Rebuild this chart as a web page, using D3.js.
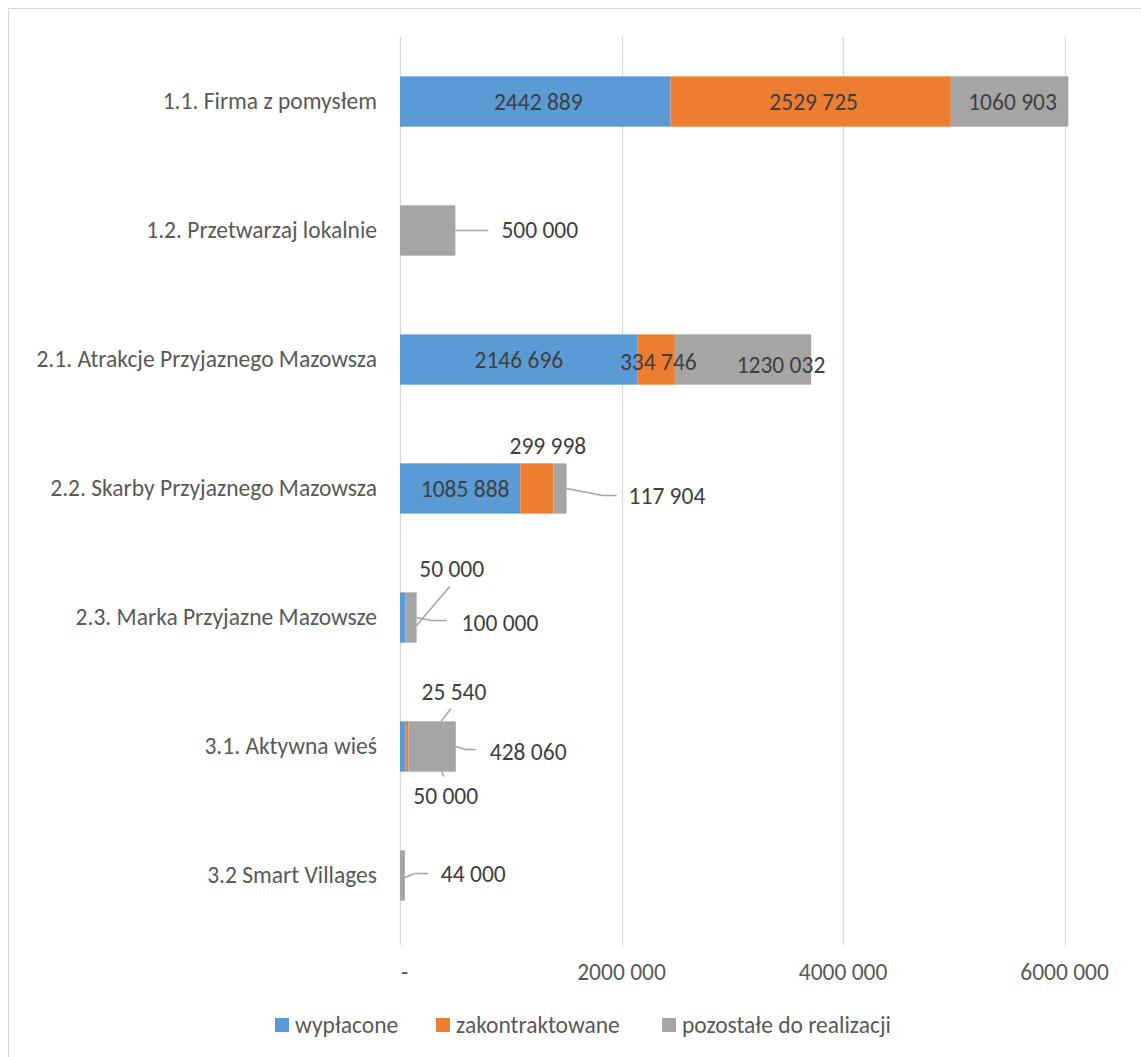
<!DOCTYPE html>
<html>
<head>
<meta charset="utf-8">
<script src="https://cdn.jsdelivr.net/npm/d3@7"></script>
<style>
  body { margin: 0; background: #fff; }
  text { font-family: Carlito, Calibri, Lato, sans-serif; }
</style>
</head>
<body>
<svg id="chart" width="1141" height="1057"></svg>
<script>
// Data
var categories = ["1.1. Firma z pomysłem", "1.2. Przetwarzaj lokalnie", "2.1. Atrakcje Przyjaznego Mazowsza",
    "2.2. Skarby Przyjaznego Mazowsza", "2.3. Marka Przyjazne Mazowsze", "3.1. Aktywna wieś", "3.2 Smart Villages"];
var seriesNames = ["wypłacone", "zakontraktowane", "pozostałe do realizacji"];
var wyplacone = [2442889, 0, 2146696, 1085888, 50000, 50000, 0];
var zakontraktowane = [2529725, 0, 334746, 299998, 0, 25540, 0];
var pozostale = [1060903, 500000, 1230032, 117904, 100000, 428060, 44000];
var xTicks = [0, 2000000, 4000000, 6000000];

var colors = ["#5B9BD5", "#ED7D31", "#A5A5A5"];
var fontSize = "23.5px";

// Set dimensions (plot area)
var plotLeft = 400,
    plotRight = 1064.6,
    plotTop = 37,
    plotBottom = 940;

var svg = d3.select("#chart");

// chart border (right/bottom edges fall off the picture)
svg.append("rect")
    .attr("x", 8.5).attr("y", 8.5)
    .attr("width", 1200).attr("height", 1200)
    .attr("fill", "none")
    .attr("stroke", "#D9D9D9");

var x = d3.scaleLinear()
    .domain([0, 6000000])
    .range([plotLeft, plotRight]);

var y = d3.scaleBand()
    .domain(categories)
    .range([plotTop, plotBottom])
    .paddingInner(0.61)
    .paddingOuter(0.305);

// number format "2442 889"
function fmt(v) {
    if (v === 0) return "-";
    var s = String(v);
    if (s.length <= 3) return s;
    return s.slice(0, -3) + " " + s.slice(-3);
}

// gridlines
svg.append("g")
    .selectAll("line")
    .data(xTicks)
    .enter()
    .append("line")
    .attr("x1", function(d) { return Math.round(x(d)) + 0.5; })
    .attr("x2", function(d) { return Math.round(x(d)) + 0.5; })
    .attr("y1", plotTop)
    .attr("y2", plotBottom + 5)
    .attr("stroke", "#D9D9D9")
    .attr("stroke-width", 1.3);

// x labels
svg.append("g")
    .selectAll("text")
    .data(xTicks)
    .enter()
    .append("text")
    .attr("x", function(d) { return d === 0 ? x(d) + 1 : x(d); })
    .attr("y", 980)
    .attr("text-anchor", function(d) { return d === 0 ? "start" : "middle"; })
    .attr("font-size", fontSize)
    .attr("fill", "#595959")
    .text(fmt);

// category labels
svg.append("g")
    .selectAll("text")
    .data(categories)
    .enter()
    .append("text")
    .attr("x", 377)
    .attr("y", function(d) { return y(d) + y.bandwidth() / 2 + 7.5; })
    .attr("text-anchor", "end")
    .attr("font-size", fontSize)
    .attr("fill", "#595959")
    .text(function(d) { return d; });

// stacked data
var rows = categories.map(function(c, i) {
    return { cat: c, s0: wyplacone[i], s1: zakontraktowane[i], s2: pozostale[i] };
});
var stack = d3.stack().keys(["s0", "s1", "s2"]);
var layers = stack(rows);

var bars = svg.append("g");
layers.forEach(function(layer, si) {
    bars.selectAll(".bar" + si)
        .data(layer)
        .enter()
        .append("rect")
        .attr("class", "bar" + si)
        .attr("x", function(d) { return x(d[0]); })
        .attr("y", function(d) { return y(d.data.cat); })
        .attr("width", function(d) { return x(d[1]) - x(d[0]); })
        .attr("height", y.bandwidth())
        .attr("fill", colors[si]);
});

// label placement: row, series, anchor point ("mid" of segment or "end"), offsets, leader line
var labelPlaces = [
    { r: 0, s: 0, at: "mid", dx: 3, dy: 0, anchor: "middle" },
    { r: 0, s: 1, at: "mid", dx: 3, dy: 0, anchor: "middle" },
    { r: 0, s: 2, at: "mid", dx: 3, dy: 0, anchor: "middle" },
    { r: 1, s: 2, at: "end", dx: 46, dy: -1, anchor: "start", leader: [[0, 0], [33, 0]] },
    { r: 2, s: 0, at: "mid", dx: 0, dy: 0, anchor: "middle" },
    { r: 2, s: 1, at: "mid", dx: 2, dy: 2.5, anchor: "middle" },
    { r: 2, s: 2, at: "mid", dx: 38, dy: 5.5, anchor: "middle" },
    { r: 3, s: 0, at: "mid", dx: 5, dy: 0, anchor: "middle" },
    { r: 3, s: 1, at: "mid", dx: 11, dy: -43, anchor: "middle" },
    { r: 3, s: 2, at: "end", dx: 62, dy: 7, anchor: "start", leader: [[0, 0], [36, 7], [50, 7]] },
    { r: 4, s: 0, at: "mid", dx: 49, dy: -48.5, anchor: "middle", leader: [[47, -31], [13, 9]] },
    { r: 4, s: 2, at: "end", dx: 45, dy: 5.5, anchor: "start", leader: [[0, 0], [15, 3], [30, 3]] },
    { r: 5, s: 1, at: "mid", dx: 47, dy: -54.5, anchor: "middle", leader: [[44, -38], [34, -25]] },
    { r: 5, s: 2, at: "end", dx: 34, dy: 5.5, anchor: "start", leader: [[0, 0], [10, 3], [20, 3]] },
    { r: 5, s: 0, at: "mid", dx: 43, dy: 49.5, anchor: "middle", leader: [[39, 25], [41, 30]] },
    { r: 6, s: 2, at: "end", dx: 36, dy: -2, anchor: "start", leader: [[0, 2], [10, -2], [23, -2]] }
];

var labels = svg.append("g");
labelPlaces.forEach(function(p) {
    var d = layers[p.s][p.r];
    var v = d[1] - d[0];
    var ax = p.at === "mid" ? (x(d[0]) + x(d[1])) / 2 : x(d[1]);
    var ay = y(d.data.cat) + y.bandwidth() / 2;
    if (p.leader) {
        labels.append("polyline")
            .attr("points", p.leader.map(function(q) { return [ax + q[0], ay + q[1]].join(","); }).join(" "))
            .attr("fill", "none")
            .attr("stroke", "#A5A5A5")
            .attr("stroke-width", 1.5);
    }
    labels.append("text")
        .attr("x", ax + p.dx)
        .attr("y", ay + p.dy + 8)
        .attr("text-anchor", p.anchor)
        .attr("font-size", fontSize)
        .attr("fill", "#404040")
        .text(fmt(v));
});

// legend
var legendX = [275, 436, 662];
var legend = svg.append("g");
var item = legend.selectAll("g")
    .data(seriesNames)
    .enter()
    .append("g")
    .attr("transform", function(d, i) { return "translate(" + legendX[i] + ",1018)"; });
item.append("rect")
    .attr("width", 14)
    .attr("height", 14)
    .attr("fill", function(d, i) { return colors[i]; });
item.append("text")
    .attr("x", 20)
    .attr("y", 15)
    .attr("font-size", fontSize)
    .attr("fill", "#595959")
    .text(function(d) { return d; });
</script>
</body>
</html>
